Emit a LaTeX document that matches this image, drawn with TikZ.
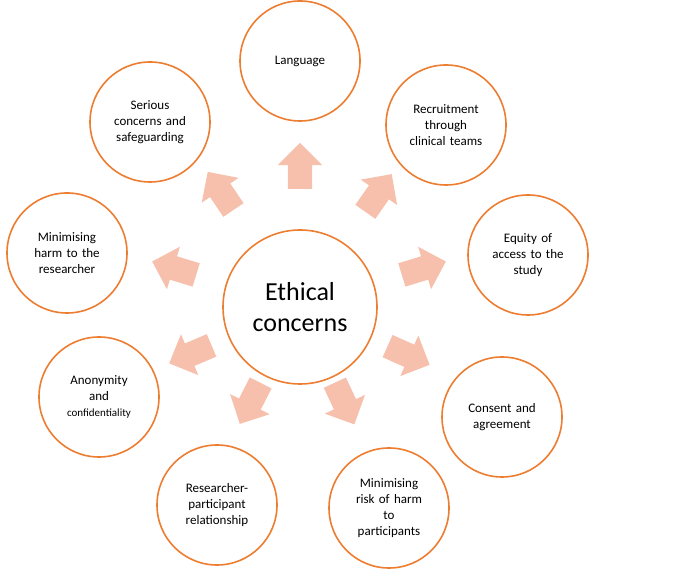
\documentclass[tikz,border=0pt]{standalone}
\usepackage{fontspec}
\setmainfont{Carlito}
\usepackage{xcolor}
\usetikzlibrary{shapes,shapes.arrows,positioning}
\definecolor{ringorange}{RGB}{237,125,49}
\definecolor{arrowpink}{RGB}{246,192,172}

\begin{document}
\begin{tikzpicture}[
      x=1pt, y=1pt,
      topic/.style={circle, draw=ringorange, line width=1.6pt, fill=white, minimum size=120pt, text width=84pt, align=center, font=\fontsize{13}{16}\selectfont},
      hub/.style={circle, draw=ringorange, line width=1.6pt, fill=white, minimum size=154pt, align=center, font=\fontsize{26}{31}\selectfont},
      pointer/.style={single arrow, draw=none, fill=arrowpink, minimum height=46pt, inner xsep=0pt, inner ysep=12pt, single arrow head extend=10pt}
    ]
      \useasboundingbox (0,0) rectangle (700,585);

      % Centre
      \node[hub] (ethics) at (300,278) {Ethical\\concerns};

      % Outer ring
      \node[topic] (lang) at (300,524) {Language};
      \node[topic] (recruit) at (446,460) {Recruitment\\through\\clinical teams};
      \node[topic] (equity) at (528,330) {Equity of\\access to the\\study};
      \node[topic] (consent) at (502,168) {Consent and\\agreement};
      \node[topic] (risk) at (389,77) {Minimising\\risk of harm\\to\\participants};
      \node[topic] (relation) at (217,80) {Researcher-\\participant\\relationship};
      \node[topic] (anon) at (99,188) {Anonymity\\and\\{\fontsize{11}{13}\selectfont confidentiality}};
      \node[topic] (harm) at (67,332) {Minimising\\harm to the\\researcher};
      \node[topic] (serious) at (150,463) {Serious\\concerns and\\safeguarding};

      % Arrows
      \node[pointer, rotate=90] (a1) at (300,413) {};
      \node[pointer, rotate=55] (a2) at (375,387) {};
      \node[pointer, rotate=17] (a3) at (418,315) {};
      \node[pointer, rotate=-24] (a4) at (403,232) {};
      \node[pointer, rotate=-65] (a5) at (342,187) {};
      \node[pointer, rotate=-117] (a6) at (253,187) {};
      \node[pointer, rotate=-157] (a7) at (196,233) {};
      \node[pointer, rotate=163] (a8) at (180,315) {};
      \node[pointer, rotate=124] (a9) at (224,389) {};
    \end{tikzpicture}
\end{document}
